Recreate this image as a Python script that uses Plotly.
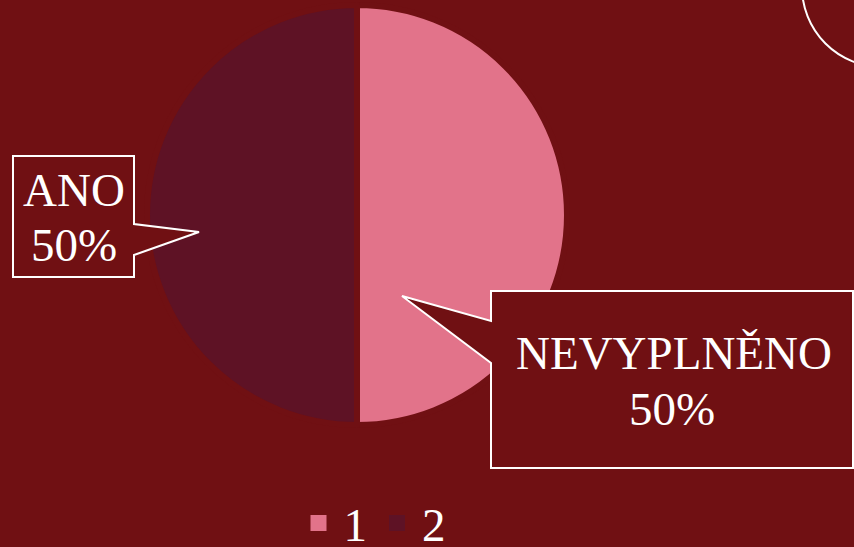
import plotly.graph_objects as go

# ---- data ----
legend_labels = ["1", "2"]
categories = ["NEVYPLNĚNO", "ANO"]
values = [50, 50]
slice_colors = ["#E2738A", "#5E1225"]

BG = "#701013"
W, H = 854, 547
FONT = "Liberation Serif, Times New Roman, serif"

def px(x):
    return x / W

def py(y):
    return 1 - y / H

total = sum(values)
pct = [f"{round(v / total * 100)}%" for v in values]

fig = go.Figure()
fig.add_trace(go.Pie(
    labels=legend_labels,
    values=values,
    sort=False,
    direction="clockwise",
    rotation=0,
    textinfo="none",
    hoverinfo="label+percent",
    showlegend=False,
    marker=dict(colors=slice_colors, line=dict(color=BG, width=6)),
    domain=dict(x=[px(357 - 210), px(357 + 210)], y=[py(215 + 210), py(215 - 210)]),
))

# legend entries (square swatches matching the slices)
for lab, col in zip(legend_labels, slice_colors):
    fig.add_trace(go.Scatter(
        x=[None], y=[None], mode="markers", name=lab,
        marker=dict(symbol="square", size=18, color=col),
        showlegend=True, hoverinfo="skip",
    ))

def path(points):
    return "M " + " L ".join(f"{px(x):.5f},{py(y):.5f}" for x, y in points) + " Z"

shapes = [
    dict(type="path", xref="paper", yref="paper",
         path=path([(13, 156), (134, 156), (134, 224), (199, 232), (134, 255), (134, 277), (13, 277)]),
         fillcolor=BG, line=dict(color="white", width=2)),
    dict(type="path", xref="paper", yref="paper",
         path=path([(491, 291), (853, 291), (853, 468), (491, 468), (491, 363), (402, 296), (491, 321)]),
         fillcolor=BG, line=dict(color="white", width=2)),
    dict(type="circle", xref="paper", yref="paper",
         x0=px(802), x1=px(962), y0=py(67), y1=py(-93),
         line=dict(color="white", width=2)),
]

label_pos = {
    "ANO": ((74, 190), (74, 245)),
    "NEVYPLNĚNO": ((674, 353), (672, 409)),
}
annotations = []
for cat, p in zip(categories, pct):
    (x1, y1), (x2, y2) = label_pos[cat]
    for txt, (x, y) in ((cat, (x1, y1)), (p, (x2, y2))):
        annotations.append(dict(x=px(x), y=py(y), xref="paper", yref="paper", text=txt,
                                showarrow=False, xanchor="center", yanchor="middle",
                                font=dict(family=FONT, size=47, color="white")))

fig.update_layout(
    width=W, height=H,
    margin=dict(l=0, r=0, t=0, b=0, autoexpand=False),
    paper_bgcolor=BG,
    plot_bgcolor=BG,
    xaxis=dict(visible=False),
    yaxis=dict(visible=False),
    showlegend=True,
    legend=dict(orientation="h", x=px(372), xanchor="center", y=py(561), yanchor="bottom",
                font=dict(family=FONT, size=47, color="white"), bgcolor="rgba(0,0,0,0)",
                itemsizing="trace", itemwidth=40, traceorder="normal"),
    shapes=shapes,
    annotations=annotations,
)

fig.write_html("out.html", config={"displayModeBar": False},
               post_script="document.body.style.margin='0';document.body.style.padding='0';")
